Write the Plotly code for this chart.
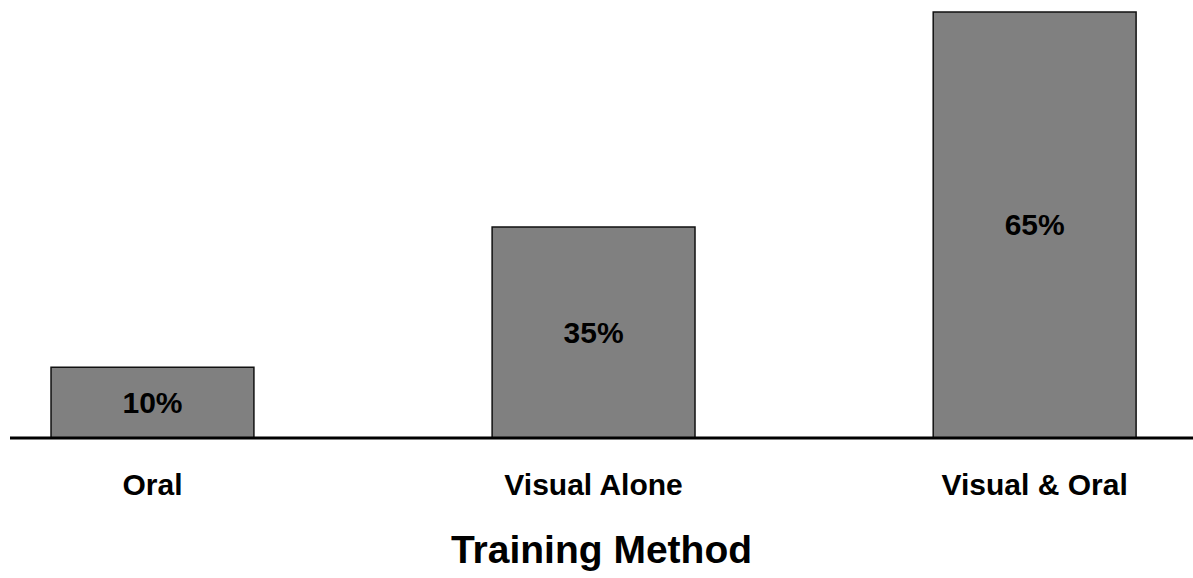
import plotly.graph_objects as go

categories = ["Oral", "Visual Alone", "Visual & Oral"]
values = [10.8, 32.2, 65.0]
labels = ["10%", "35%", "65%"]
x_title = "Training Method"

FONT = "Liberation Sans, Arial, sans-serif"

fig = go.Figure(
    go.Bar(
        x=categories,
        y=values,
        text=labels,
        textposition="inside",
        insidetextanchor="middle",
        textangle=0,
        constraintext="none",
        textfont=dict(family=FONT, size=30, color="#000000", weight="bold"),
        marker=dict(color="#808080", line=dict(color="#111111", width=1.5)),
        width=0.46,
        hoverinfo="skip",
    )
)

# baseline (paper-referenced so it is not clipped at the plot edge)
fig.add_shape(
    type="line", xref="paper", yref="paper", x0=0, x1=1, y0=0, y1=0,
    line=dict(color="#000000", width=3), layer="above",
)

fig.update_layout(
    width=1193,
    height=578,
    margin=dict(l=10, r=0, t=11, b=140, autoexpand=False),
    plot_bgcolor="#ffffff",
    paper_bgcolor="#ffffff",
    showlegend=False,
    font=dict(family=FONT, color="#000000"),
    xaxis=dict(
        type="category",
        range=[-0.323, 2.359],
        showgrid=False,
        zeroline=False,
        showline=False,
        ticks="outside",
        ticklen=20,
        tickcolor="rgba(0,0,0,0)",
        tickfont=dict(family=FONT, size=30, color="#000000", weight="bold"),
        title=dict(
            text=x_title,
            font=dict(family=FONT, size=39, color="#000000", weight="bold"),
            standoff=35,
        ),
        automargin=False,
    ),
    yaxis=dict(
        range=[0, 65.15],
        showgrid=False,
        zeroline=False,
        showline=False,
        showticklabels=False,
        ticks="",
        automargin=False,
    ),
)

fig.write_html("out.html")
